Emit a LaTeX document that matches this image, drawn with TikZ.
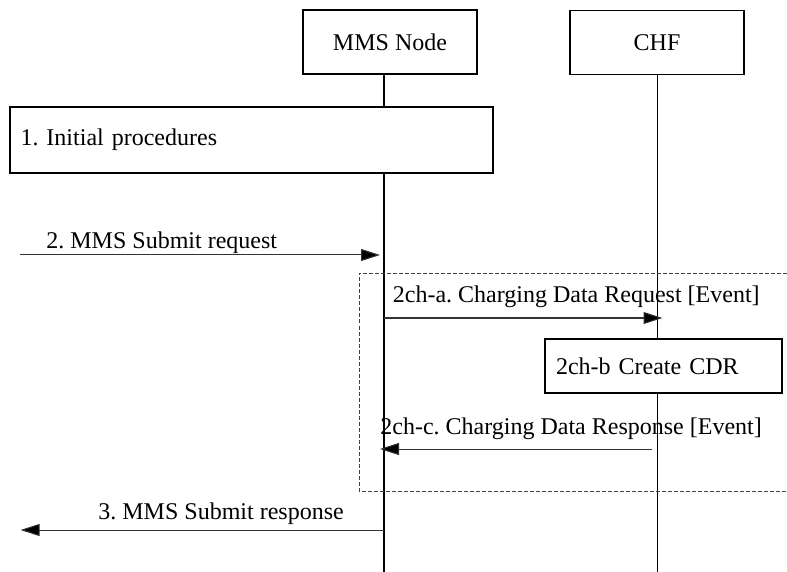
\documentclass[tikz,border=0pt]{standalone}
\usepackage{fontspec}
\setmainfont{Liberation Serif}
\usetikzlibrary{arrows.meta}
\frenchspacing

\begin{document}
\begin{tikzpicture}[x=0.5pt, y=-0.5pt,
    font=\fontsize{12}{14}\selectfont,
    entity/.style={draw, line width=0.6pt, fill=white, minimum width=87pt, minimum height=32pt, inner sep=0pt},
    procbox/.style={draw, line width=0.6pt, fill=white, align=left},
    lifeline/.style={line width=0.75pt},
    msg/.style={line width=0.5pt, draw=black!80, -{Triangle[length=9.5pt, width=6pt, fill=black]}},
    msglabel/.style={anchor=base west, inner sep=0pt},
    frame/.style={line width=0.5pt, draw=black!75, dash pattern=on 2pt off 1pt}]
    \useasboundingbox (0,0) rectangle (787,572);

    % Entities
    \node[entity] (mms) at (390,42) {MMS Node};
    \node[entity] (chf) at (657,42.5) {CHF};

    % Lifelines
    \coordinate (mmstop) at (384,74);
    \coordinate (mmsend) at (384,572);
    \coordinate (chftop) at (657.5,75);
    \coordinate (chfend) at (657.5,572);
    \draw[lifeline] (mmstop) -- (mmsend);
    \draw[lifeline] (chftop) -- (chfend);

    % Step 1
    \node[procbox, text width=231pt, inner xsep=5.25pt, minimum height=33pt] (init) at (251.5,140) {1. Initial procedures};

    % Step 2
    \coordinate (src2) at (20,255);
    \coordinate (mms2) at (384,255);
    \draw[msg] (src2) -- ([xshift=-2pt]mms2);
    \node[msglabel] (req2) at (46,248.5) {2. MMS Submit request};

    % Charging section
    \coordinate (frameTR) at (787,273.5);
    \coordinate (frameTL) at (359,273.5);
    \coordinate (frameBL) at (359,491);
    \coordinate (frameBR) at (787,491);
    \draw[frame] (frameTR) -- (frameTL) -- (frameBL) -- (frameBR);

    \coordinate (mmsA) at (384,318);
    \coordinate (chfA) at (657.5,318);
    \draw[msg] (mmsA) -- ([xshift=2.5pt]chfA);
    \node[msglabel] (reqA) at (392.5,303) {2ch-a. Charging Data Request [Event]};

    \node[procbox, text width=107.5pt, inner xsep=5.5pt, minimum height=27pt] (cdr) at (663.5,366) {2ch-b Create CDR};

    \coordinate (chfC) at (652,449);
    \coordinate (mmsC) at (384,449);
    \draw[msg] (chfC) -- ([xshift=-2pt]mmsC);
    \node[msglabel] (resC) at (380,434) {2ch-c. Charging Data Response [Event]};

    % Step 3
    \coordinate (mms3) at (384,530);
    \coordinate (dst3) at (20.5,530);
    \draw[msg] (mms3) -- (dst3);
    \node[msglabel] (res3) at (98,519.5) {3. MMS Submit response};
\end{tikzpicture}
\end{document}
